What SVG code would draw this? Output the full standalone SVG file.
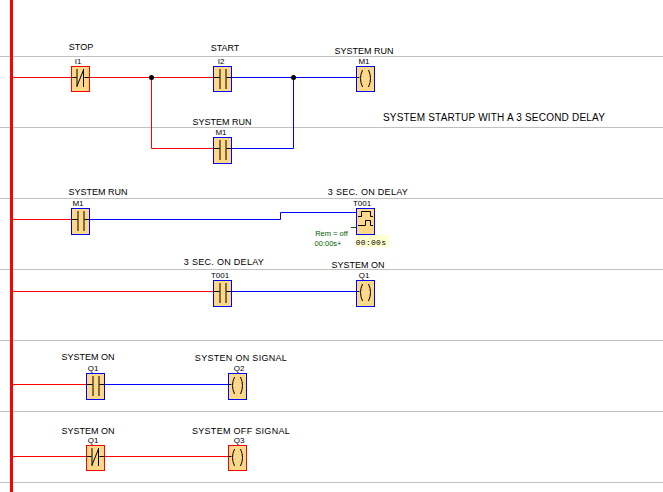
<svg xmlns="http://www.w3.org/2000/svg" width="663" height="492" viewBox="0 0 663 492">
<style>
text{font-family:"Liberation Sans",Arial,sans-serif;font-size:9px;fill:#000;text-anchor:middle}
.small{font-size:8px}
.wide{letter-spacing:.3px}
.big{font-size:10px;letter-spacing:.2px}
.grid{stroke:#c0c0c0;stroke-width:1;fill:none}
.r{stroke:#f00;stroke-width:1;fill:none}
.b{stroke:#00f;stroke-width:1;fill:none}
.body{fill:#fdd888;stroke-width:1}
.rb{stroke:#f00}.bb{stroke:#00f}
.sym{stroke:#000;stroke-width:1;fill:none}
.tag{fill:#006000;font-size:7.500px}
.time{font-family:"Liberation Mono",monospace;font-size:8px;letter-spacing:.3px}
</style>
<defs>
<g id="no"><path class="sym" d="M0 11.500H6M13 11.500H18M6.500 3V23M12.500 3V23"/></g>
<g id="nc"><path class="sym" d="M0 11.500H5M13 11.500H18M5.500 3V21M12 3V21"/><path class="sym" d="M5.500 20L12 4" stroke-width="1.200"/></g>
<g id="coil"><path class="sym" d="M0 11.500H3M6 4Q2 12.500 6 21M12 4Q16 12.500 12 21"/></g>
</defs>
<rect width="663" height="492" fill="#fff"/>
<g id="grid">
<path class="grid" d="M0 56.500H663M0 127.500H663M0 198.500H663M0 269.500H663M0 340.500H663M0 411.500H663M0 482.500H663"/>
<rect x="10" y="0" width="3" height="492" fill="#f00"/>
</g>
<g id="connectors">
<path class="r" d="M13 77.500H71M90 77.500H214M151.500 77.500V148.500H214"/>
<path class="b" d="M232 77.500H357M232 148.500H293.500V77.500"/>
<circle cx="151.500" cy="77.500" r="2.500" fill="#000"/>
<circle cx="293.500" cy="77.500" r="2.500" fill="#000"/>
<path class="r" d="M13 219.500H71"/>
<path class="b" d="M90 219.500H280.500V212.500H357"/>
<path class="r" d="M13 291.500H214"/>
<path class="b" d="M232 291.500H357"/>
<path class="r" d="M13 384.500H87"/>
<path class="b" d="M105 384.500H229"/>
<path class="r" d="M13 456.500H87M105 456.500H229"/>
</g>
<g id="i1"><text x="81" y="50">STOP</text><text class="small" x="78" y="64">I1</text><rect class="body rb" x="71.500" y="66.500" width="18" height="25"/><use href="#nc" x="71.500" y="66"/></g>
<g id="i2"><text x="225" y="51">START</text><text class="small" x="221" y="64">I2</text><rect class="body bb" x="213.500" y="66.500" width="18" height="25"/><use href="#no" x="213.500" y="66"/></g>
<g id="m1-coil"><text x="364" y="54">SYSTEM RUN</text><text class="small" x="364" y="64">M1</text><rect class="body bb" x="356.500" y="66.500" width="18" height="25"/><use href="#coil" x="356.500" y="66"/></g>
<g id="m1-parallel"><text x="222" y="125">SYSTEM RUN</text><text class="small" x="221" y="135">M1</text><rect class="body bb" x="213.500" y="137.500" width="18" height="26"/><use href="#no" x="213.500" y="137"/></g>
<g id="note"><text class="big" x="494" y="121">SYSTEM STARTUP WITH A 3 SECOND DELAY</text></g>
<g id="m1-contact"><text x="98" y="195">SYSTEM RUN</text><text class="small" x="78" y="206">M1</text><rect class="body bb" x="71.500" y="208.500" width="18" height="26"/><use href="#no" x="71.500" y="208"/></g>
<g id="t001">
<text class="wide" x="368" y="195">3 SEC. ON DELAY</text><text class="small" x="362" y="206">T001</text>
<rect x="356" y="235" width="33" height="12" fill="#ffffd0"/>
<rect class="body bb" x="356.500" y="208.500" width="18" height="26"/>
<path class="sym" d="M358 216.500H361.500V211.500H370.500V216.500H373M358 225.500H365.500V220.500H370.500V225.500H373"/>
<path d="M351 227.500H356" stroke="#006000" fill="none"/>
<text class="tag" x="331.500" y="236">Rem = off</text><text class="tag" x="328" y="246">00:00s+</text>
<text class="time" x="371" y="245">00:00s</text>
</g>
<g id="t001-contact"><text class="wide" x="224" y="265">3 SEC. ON DELAY</text><text class="small" x="220" y="278">T001</text><rect class="body bb" x="213.500" y="280.500" width="18" height="26"/><use href="#no" x="213.500" y="280"/></g>
<g id="q1-coil"><text x="358" y="268">SYSTEM ON</text><text class="small" x="364" y="278">Q1</text><rect class="body bb" x="356.500" y="280.500" width="18" height="26"/><use href="#coil" x="356.500" y="280"/></g>
<g id="q1-contact"><text x="88" y="360">SYSTEM ON</text><text class="small" x="93" y="371">Q1</text><rect class="body bb" x="86.500" y="373.500" width="18" height="26"/><use href="#no" x="86.500" y="373"/></g>
<g id="q2"><text class="wide" x="241" y="361">SYSTEN ON SIGNAL</text><text class="small" x="239" y="371">Q2</text><rect class="body bb" x="228.500" y="373.500" width="18" height="26"/><use href="#coil" x="228.500" y="373"/></g>
<g id="q1-nc"><text x="88" y="434">SYSTEM ON</text><text class="small" x="93" y="443">Q1</text><rect class="body rb" x="86.500" y="445.500" width="18" height="25"/><use href="#nc" x="86.500" y="445"/></g>
<g id="q3"><text class="wide" x="241" y="434">SYSTEM OFF SIGNAL</text><text class="small" x="239" y="443">Q3</text><rect class="body rb" x="228.500" y="445.500" width="18" height="25"/><use href="#coil" x="228.500" y="445"/></g>
</svg>
